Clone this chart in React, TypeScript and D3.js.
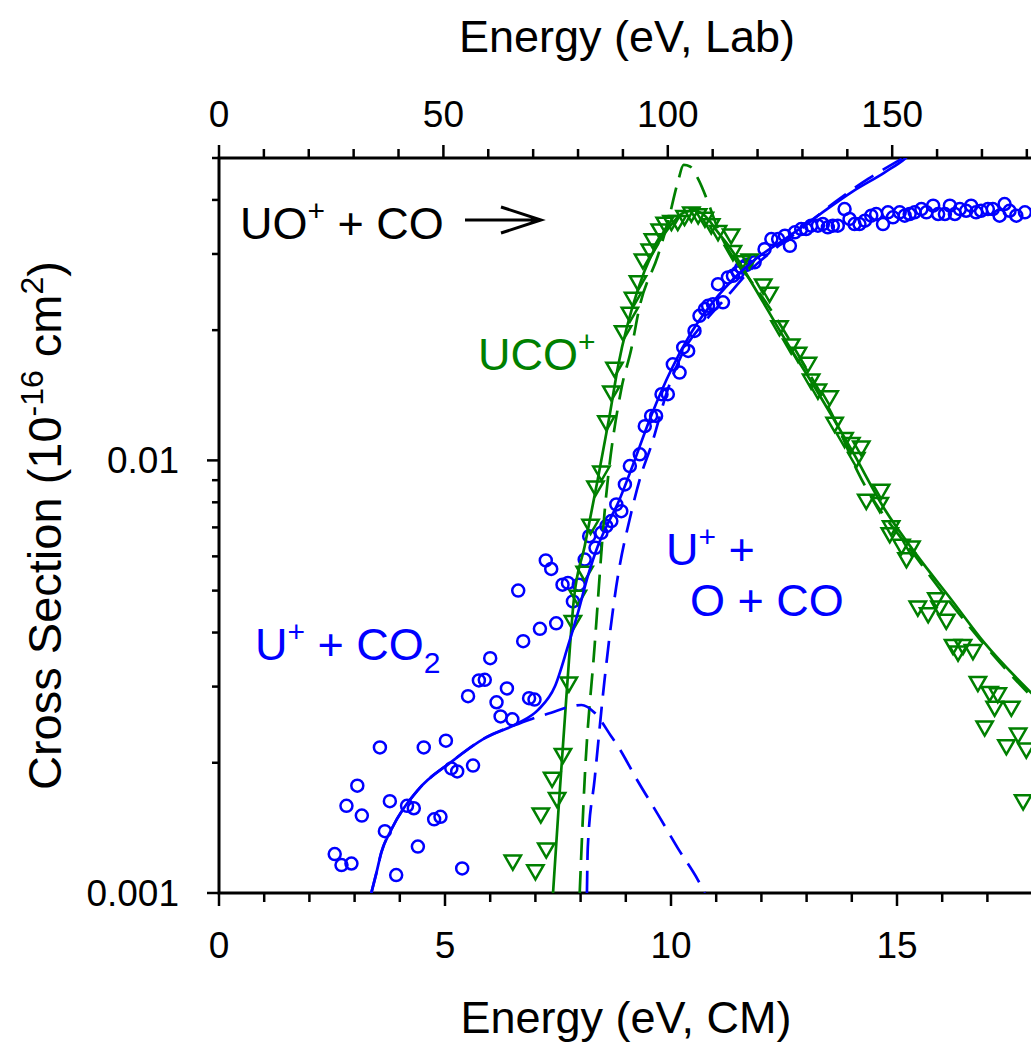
import * as d3 from "d3";
import { useEffect, useRef } from "react";

// ---- data (E in eV CM, cross section in 1e-16 cm^2) ----
const uPlusE = [2.56, 2.71, 2.82, 2.93, 3.06, 3.16, 3.56, 3.67, 3.78, 3.92, 4.16, 4.31, 4.40, 4.53, 4.76, 4.90, 5.02, 5.14, 5.27, 5.38, 5.51, 5.62, 5.75, 5.88, 6.00, 6.14, 6.23, 6.37, 6.49, 6.62, 6.73, 6.86, 6.98, 7.10, 7.23, 7.35, 7.46, 7.60, 7.72, 7.83, 7.96, 8.09, 8.19, 8.33, 8.46, 8.57, 8.68, 8.79, 8.90, 8.98, 9.09, 9.31, 9.42, 9.56, 9.67, 9.79, 9.93, 10.04, 10.19, 10.27, 10.38, 10.52, 10.63, 10.75, 10.82, 10.93, 11.04, 11.15, 11.26, 11.37, 11.48, 11.56, 11.67, 11.85, 12.07, 12.22, 12.37, 12.52, 12.63, 12.74, 12.88, 12.99, 13.10, 13.25, 13.36, 13.47, 13.58, 13.69, 13.84, 13.95, 14.06, 14.17, 14.29, 14.43, 14.54, 14.69, 14.80, 14.91, 15.06, 15.17, 15.28, 15.39, 15.54, 15.65, 15.80, 15.91, 16.06, 16.17, 16.28, 16.39, 16.53, 16.64, 16.75, 16.86, 17.01, 17.12, 17.27, 17.38, 17.49, 17.64, 17.83];
const uPlusS = [0.00123, 0.00116, 0.00159, 0.00117, 0.00177, 0.00151, 0.00217, 0.00139, 0.00163, 0.00110, 0.00159, 0.00157, 0.00128, 0.00217, 0.00148, 0.00150, 0.00225, 0.00194, 0.00191, 0.00114, 0.00285, 0.00197, 0.00310, 0.00311, 0.00349, 0.00276, 0.00256, 0.00297, 0.00252, 0.00500, 0.00382, 0.00282, 0.00280, 0.00408, 0.00587, 0.00561, 0.00420, 0.00516, 0.00521, 0.00472, 0.00516, 0.00590, 0.00668, 0.00628, 0.00680, 0.00705, 0.00724, 0.00791, 0.00763, 0.00880, 0.00970, 0.01033, 0.0120, 0.01267, 0.01267, 0.01422, 0.01422, 0.01668, 0.01596, 0.01824, 0.0179, 0.01992, 0.02158, 0.02237, 0.02277, 0.02297, 0.02555, 0.0232, 0.02648, 0.02671, 0.0272, 0.02793, 0.0283, 0.02869, 0.03078, 0.03248, 0.03248, 0.03306, 0.03133, 0.03366, 0.03425, 0.03425, 0.03487, 0.03487, 0.03518, 0.03457, 0.03487, 0.03487, 0.0381, 0.03614, 0.03518, 0.03518, 0.03581, 0.03678, 0.03711, 0.03518, 0.03745, 0.03646, 0.03745, 0.03678, 0.03711, 0.03745, 0.0381, 0.03745, 0.03879, 0.03711, 0.03711, 0.03879, 0.03711, 0.0381, 0.03776, 0.03879, 0.03745, 0.03776, 0.0381, 0.0381, 0.03678, 0.03914, 0.03776, 0.03678, 0.03745];

const ucoE = [6.50, 7.00, 7.12, 7.24, 7.37, 7.48, 7.61, 7.74, 7.83, 7.94, 8.09, 8.22, 8.33, 8.46, 8.57, 8.68, 8.75, 8.94, 9.09, 9.16, 9.27, 9.38, 9.53, 9.60, 9.75, 9.86, 10.01, 10.15, 10.30, 10.45, 10.60, 10.75, 10.89, 11.04, 11.33, 11.37, 11.56, 11.74, 12.04, 12.18, 12.40, 12.66, 12.81, 13.03, 13.10, 13.25, 13.51, 13.62, 13.84, 13.99, 14.10, 14.21, 14.32, 14.62, 14.65, 14.84, 14.87, 15.10, 15.21, 15.32, 15.46, 15.69, 15.87, 15.94, 16.09, 16.24, 16.35, 16.46, 16.68, 16.79, 16.94, 17.05, 17.16, 17.23, 17.42, 17.53, 17.68, 17.79, 17.86];
const ucoS = [0.00119, 0.00113, 0.00153, 0.00127, 0.00185, 0.00166, 0.00210, 0.00307, 0.00426, 0.00487, 0.00554, 0.00711, 0.00872, 0.00944, 0.01233, 0.01446, 0.0164, 0.01992, 0.02198, 0.0238, 0.0260, 0.02919, 0.03078, 0.03248, 0.03425, 0.03549, 0.03581, 0.03581, 0.03678, 0.03745, 0.03711, 0.03646, 0.03518, 0.03395, 0.03335, 0.03051, 0.02892, 0.02919, 0.02555, 0.02444, 0.02046, 0.01856, 0.01775, 0.01684, 0.0154, 0.0146, 0.01409, 0.01223, 0.01128, 0.01099, 0.01014, 0.01079, 0.00812, 0.00798, 0.00857, 0.0068, 0.00705, 0.00639, 0.00595, 0.00633, 0.0046, 0.00444, 0.00481, 0.0046, 0.00429, 0.00375, 0.00362, 0.00375, 0.00365, 0.00308, 0.00243, 0.00292, 0.0027, 0.0029, 0.0022, 0.0027, 0.00234, 0.00164, 0.00216];

// model curves
const ucoFitE = [7.39, 7.52, 7.68, 7.85, 8.09, 8.38, 8.64, 8.83, 9.27, 9.56, 9.93, 10.30, 10.52, 10.75, 11.04, 11.33, 11.78, 12.52, 13.25, 13.99, 14.73, 15.46, 16.20, 16.94, 17.90, 18.0];
const ucoFitS = [0.001, 0.00161, 0.00279, 0.00476, 0.00633, 0.00904, 0.01267, 0.01653, 0.02488, 0.02972, 0.03425, 0.03745, 0.03776, 0.03678, 0.03366, 0.03078, 0.02578, 0.01906, 0.01435, 0.0106, 0.0077, 0.006, 0.00477, 0.00378, 0.00295, 0.00288];
const ucoModelE = [7.98, 8.09, 8.31, 8.53, 8.90, 9.12, 9.31, 9.71, 9.93, 10.15, 10.28, 10.42, 10.60, 10.82, 11.04, 11.26, 11.63, 12.15, 12.96, 13.62, 14.14, 15.46, 17.90, 18.0];
const ucoModelS = [0.001, 0.00183, 0.00372, 0.00757, 0.0146, 0.01807, 0.02277, 0.02972, 0.03549, 0.04394, 0.0482, 0.0478, 0.04472, 0.03949, 0.03425, 0.03078, 0.0272, 0.02277, 0.01653, 0.01243, 0.00937, 0.0059, 0.0029, 0.00283];

const uFitE = [3.37, 3.48, 3.59, 3.81, 4.40, 5.14, 5.88, 6.62, 7.06, 7.43, 7.72, 7.94, 8.16, 8.38, 8.61, 8.83, 9.12, 9.56, 10.01, 10.45, 11.04, 11.78, 12.52, 13.25, 13.99, 14.73, 15.17, 15.25];
const uFitS = [0.001, 0.00111, 0.00124, 0.0014, 0.00173, 0.00201, 0.00228, 0.00247, 0.00265, 0.0030, 0.00372, 0.00444, 0.0054, 0.00633, 0.00717, 0.00798, 0.00953, 0.01267, 0.01624, 0.01975, 0.024, 0.02869, 0.03248, 0.03678, 0.04166, 0.04634, 0.04976, 0.0506];
const uCO2E = [3.37, 3.48, 3.59, 3.81, 4.40, 5.14, 5.88, 6.62, 6.98, 7.35, 7.79, 8.02, 8.31, 8.68, 8.83, 9.27, 9.71, 10.15, 10.60, 10.75];
const uCO2S = [0.001, 0.00111, 0.00124, 0.0014, 0.00173, 0.00201, 0.00228, 0.00246, 0.00254, 0.00261, 0.0027, 0.00272, 0.00261, 0.0023, 0.00218, 0.00181, 0.00152, 0.00127, 0.00107, 0.001];
const uOCOE = [8.14, 8.16, 8.31, 8.53, 8.79, 9.12, 9.33, 9.56, 9.93, 10.30, 10.67, 11.19, 11.78, 12.29, 12.88, 13.62, 14.36, 15.10, 15.25];
const uOCOS = [0.001, 0.00128, 0.00183, 0.00311, 0.00512, 0.00757, 0.0092, 0.01079, 0.0146, 0.01807, 0.02046, 0.02359, 0.02768, 0.03078, 0.03425, 0.03949, 0.04472, 0.04976, 0.0508];

const cmTicks = d3.range(0, 19, 1);
const cmLabels = [0, 5, 10, 15];
const labTicks = d3.range(0, 190, 10);
const labLabels = [0, 50, 100, 150];
const yLabels = [0.001, 0.01];

const labToCm = 28 / 282; // CO / (UO+ + CO)

const GREEN = "#008000";
const BLUE = "#0000ff";
const FONT = "'Liberation Sans', Arial, Helvetica, sans-serif";

const App = () => {
  const ref = useRef(null);

  useEffect(() => {
    draw();
  }, []);

  const draw = () => {
    const width = 1031, height = 1044;
    const margin = { top: 158, left: 219, bottom: 893 };
    const xRight = 219 + 18 * 45.2;

    const root = d3.select(ref.current);
    root.selectAll("*").remove();
    const svg = root.append("svg")
      .attr("width", width)
      .attr("height", height)
      .style("position", "absolute")
      .style("left", 0)
      .style("top", 0)
      .style("font-family", FONT);

    const x = d3.scaleLinear().domain([0, 18]).range([margin.left, xRight]);
    const xLab = d3.scaleLinear().domain([0, 18 / labToCm]).range([margin.left, xRight]);
    const y = d3.scaleLog().domain([0.001, 0.05]).range([margin.bottom, margin.top]);

    svg.append("defs").append("clipPath").attr("id", "plotclip")
      .append("rect")
      .attr("x", margin.left).attr("y", margin.top)
      .attr("width", xRight - margin.left).attr("height", margin.bottom - margin.top);

    // bottom ticks
    svg.append("g").selectAll("line").data(cmTicks).enter().append("line")
      .attr("x1", d => x(d)).attr("x2", d => x(d))
      .attr("y1", margin.bottom)
      .attr("y2", d => margin.bottom + (d % 5 === 0 ? 13 : 9))
      .attr("stroke", "black").attr("stroke-width", 2.5);
    svg.append("g").selectAll("text").data(cmLabels).enter().append("text")
      .attr("x", d => x(d)).attr("y", 958)
      .attr("text-anchor", "middle").attr("font-size", 37)
      .text(d => d);

    // top ticks
    svg.append("g").selectAll("line").data(labTicks).enter().append("line")
      .attr("x1", d => xLab(d)).attr("x2", d => xLab(d))
      .attr("y1", margin.top)
      .attr("y2", d => margin.top - (d % 50 === 0 ? 13 : 9))
      .attr("stroke", "black").attr("stroke-width", 2.5);
    svg.append("g").selectAll("text").data(labLabels).enter().append("text")
      .attr("x", d => xLab(d)).attr("y", 127)
      .attr("text-anchor", "middle").attr("font-size", 37)
      .text(d => d);

    // left ticks (log)
    const yTicks = [];
    [0.001, 0.01].forEach(dec => {
      for (let k = 1; k < 10; k++) {
        const v = dec * k;
        if (v <= 0.0500001) yTicks.push({ v, major: k === 1 });
      }
    });
    svg.append("g").selectAll("line").data(yTicks).enter().append("line")
      .attr("x1", margin.left)
      .attr("x2", d => margin.left - (d.major ? 12 : 7))
      .attr("y1", d => y(d.v)).attr("y2", d => y(d.v))
      .attr("stroke", "black").attr("stroke-width", 2.5);
    svg.append("g").selectAll("text").data(yLabels).enter().append("text")
      .attr("x", 179).attr("y", d => y(d) + 13)
      .attr("text-anchor", "end").attr("font-size", 37)
      .text(d => d);

    // frame
    svg.append("rect")
      .attr("x", margin.left).attr("y", margin.top)
      .attr("width", xRight - margin.left).attr("height", margin.bottom - margin.top)
      .attr("fill", "none").attr("stroke", "black").attr("stroke-width", 3);

    // axis titles
    svg.append("text").attr("x", 626).attr("y", 1033)
      .attr("text-anchor", "middle").attr("font-size", 45)
      .text("Energy (eV, CM)");
    svg.append("text").attr("x", 627).attr("y", 52)
      .attr("text-anchor", "middle").attr("font-size", 45)
      .text("Energy (eV, Lab)");
    const yt = svg.append("text")
      .attr("transform", `translate(61,${(margin.top + margin.bottom) / 2}) rotate(-90)`)
      .attr("text-anchor", "middle").attr("font-size", 47);
    yt.append("tspan").text("Cross Section (10");
    yt.append("tspan").attr("font-size", 32).attr("dy", -18).text("-16");
    yt.append("tspan").attr("dy", 18).text(" cm");
    yt.append("tspan").attr("font-size", 32).attr("dy", -18).text("2");
    yt.append("tspan").attr("dy", 18).text(")");

    const plot = svg.append("g").attr("clip-path", "url(#plotclip)");
    const line = d3.line().x(d => x(d[0])).y(d => y(d[1])).curve(d3.curveMonotoneX);
    const zip = (a, b) => a.map((v, i) => [v, b[i]]);

    // markers
    plot.append("g").selectAll("circle").data(zip(uPlusE, uPlusS)).enter().append("circle")
      .attr("cx", d => x(d[0])).attr("cy", d => y(d[1])).attr("r", 6)
      .attr("fill", "none").attr("stroke", BLUE).attr("stroke-width", 2.5);
    const tri = d3.symbol().type(d3.symbolTriangle).size(115);
    plot.append("g").selectAll("path").data(zip(ucoE, ucoS)).enter().append("path")
      .attr("d", tri)
      .attr("transform", d => `translate(${x(d[0])},${y(d[1])}) rotate(180)`)
      .attr("fill", "none").attr("stroke", GREEN).attr("stroke-width", 2.5);

    // model curves
    const curves = [
      { e: ucoModelE, s: ucoModelS, c: GREEN, dash: "22,11" },
      { e: ucoFitE, s: ucoFitS, c: GREEN, dash: null },
      { e: uCO2E, s: uCO2S, c: BLUE, dash: "22,11" },
      { e: uOCOE, s: uOCOS, c: BLUE, dash: "22,11" },
      { e: uFitE, s: uFitS, c: BLUE, dash: null },
    ];
    curves.forEach(cv => {
      plot.append("path")
        .attr("d", line(zip(cv.e, cv.s)))
        .attr("fill", "none").attr("stroke", cv.c).attr("stroke-width", 2.7)
        .attr("stroke-dasharray", cv.dash);
    });

    // annotations
    const a1 = svg.append("text").attr("x", 240).attr("y", 239).attr("font-size", 45).attr("fill", "black");
    a1.append("tspan").text("UO");
    a1.append("tspan").attr("font-size", 30).attr("dy", -18).text("+");
    a1.append("tspan").attr("dy", 18).text(" + CO");
    svg.append("path")
      .attr("d", "M465,220 L541,220 M501,207 L541,220 L501,233")
      .attr("fill", "none").attr("stroke", "black").attr("stroke-width", 3);

    const a2 = svg.append("text").attr("x", 478).attr("y", 370).attr("font-size", 45).attr("fill", GREEN);
    a2.append("tspan").text("UCO");
    a2.append("tspan").attr("font-size", 30).attr("dy", -18).text("+");

    const a3 = svg.append("text").attr("x", 255).attr("y", 660).attr("font-size", 45).attr("fill", BLUE);
    a3.append("tspan").text("U");
    a3.append("tspan").attr("font-size", 30).attr("dy", -18).text("+");
    a3.append("tspan").attr("dy", 18).text(" + CO");
    a3.append("tspan").attr("font-size", 30).attr("dy", 13).text("2");

    const a4 = svg.append("text").attr("x", 666).attr("y", 565).attr("font-size", 45).attr("fill", BLUE);
    a4.append("tspan").text("U");
    a4.append("tspan").attr("font-size", 30).attr("dy", -18).text("+");
    a4.append("tspan").attr("dy", 18).text(" +");
    svg.append("text").attr("x", 690).attr("y", 616).attr("font-size", 45).attr("fill", BLUE)
      .text("O + CO");
  };

  return <div ref={ref} style={{ width: 1031, height: 1044 }}></div>;
};

export default App;
